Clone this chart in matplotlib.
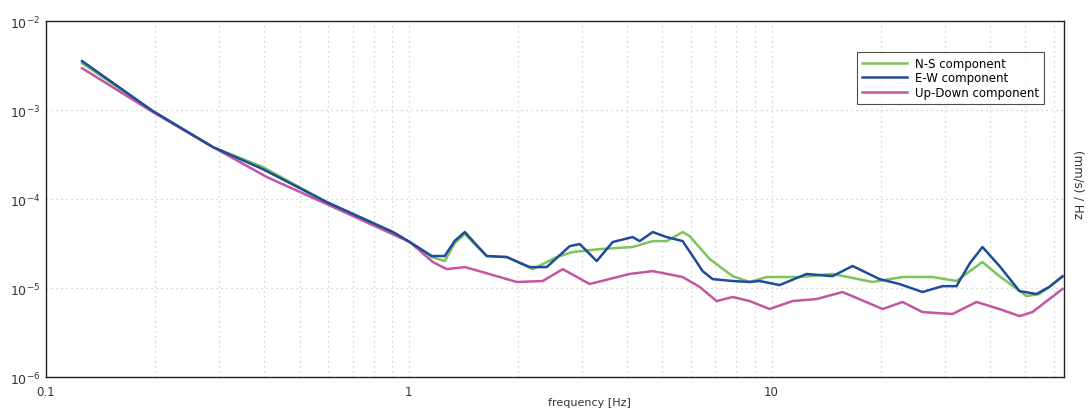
import matplotlib
matplotlib.use("Agg")
import matplotlib.pyplot as plt
from matplotlib.ticker import LogLocator, FixedLocator, NullFormatter

# Spectres de bruit des trois composantes (vitesse, (mm/s)/Hz)
freq_ns = [0.1257, 0.197, 0.2885, 0.396, 0.594, 0.904, 1.006, 1.157, 1.256, 1.339,
           1.427, 1.520, 1.640, 1.862, 2.196, 2.557, 2.830, 3.359, 4.140, 4.701,
           5.137, 5.686, 5.944, 6.749, 7.810, 8.699, 9.687, 11.94, 14.72, 18.97,
           22.96, 27.77, 32.33, 35.20, 38.13, 42.47, 50.41, 54.73, 63.34]
psd_ns = [3.37e-3, 9.75e-4, 3.84e-4, 2.29e-4, 9.25e-5, 4.26e-5, 3.29e-5, 2.23e-5, 2.01e-5, 3.20e-5,
          4.05e-5, 3.10e-5, 2.29e-5, 2.23e-5, 1.63e-5, 2.23e-5, 2.54e-5, 2.74e-5, 2.89e-5, 3.37e-5,
          3.37e-5, 4.26e-5, 3.84e-5, 2.12e-5, 1.36e-5, 1.17e-5, 1.33e-5, 1.33e-5, 1.44e-5, 1.17e-5,
          1.33e-5, 1.33e-5, 1.20e-5, 1.55e-5, 1.96e-5, 1.36e-5, 8.13e-6, 8.57e-6, 1.33e-5]

freq_ew = [0.1257, 0.197, 0.2885, 0.396, 0.594, 0.904, 1.006, 1.157, 1.256, 1.339,
           1.427, 1.520, 1.640, 1.862, 2.154, 2.400, 2.777, 2.959, 3.296, 3.648,
           4.140, 4.329, 4.701, 5.137, 5.686, 6.059, 6.455, 6.879, 7.810, 8.699,
           9.267, 10.52, 12.49, 14.72, 16.72, 19.84, 22.52, 26.06, 29.59, 32.33,
           35.20, 38.13, 42.47, 48.23, 53.70, 58.32, 63.34]
psd_ew = [3.56e-3, 9.75e-4, 3.84e-4, 2.17e-4, 9.25e-5, 4.26e-5, 3.29e-5, 2.29e-5, 2.29e-5, 3.40e-5,
          4.26e-5, 3.20e-5, 2.29e-5, 2.23e-5, 1.72e-5, 1.72e-5, 2.96e-5, 3.12e-5, 2.01e-5, 3.29e-5,
          3.74e-5, 3.37e-5, 4.26e-5, 3.74e-5, 3.37e-5, 2.29e-5, 1.55e-5, 1.26e-5, 1.20e-5, 1.17e-5,
          1.20e-5, 1.08e-5, 1.44e-5, 1.36e-5, 1.77e-5, 1.26e-5, 1.11e-5, 9.02e-6, 1.05e-5, 1.05e-5,
          1.90e-5, 2.89e-5, 1.77e-5, 9.25e-6, 8.57e-6, 1.03e-5, 1.36e-5]

freq_ud = [0.1257, 0.197, 0.2885, 0.406, 0.594, 1.006, 1.165, 1.273, 1.427, 1.599,
           1.984, 2.340, 2.656, 3.152, 4.062, 4.701, 5.686, 6.334, 7.056, 7.810,
           8.699, 9.873, 11.43, 13.30, 15.69, 20.23, 22.96, 26.06, 31.52, 36.71,
           42.47, 48.23, 52.36, 63.34]
psd_ud = [2.96e-3, 9.51e-4, 3.84e-4, 1.77e-4, 8.79e-5, 3.29e-5, 1.96e-5, 1.63e-5, 1.72e-5, 1.51e-5,
          1.17e-5, 1.20e-5, 1.63e-5, 1.11e-5, 1.44e-5, 1.55e-5, 1.33e-5, 1.03e-5, 7.14e-6, 7.93e-6,
          7.14e-6, 5.81e-6, 7.14e-6, 7.52e-6, 9.02e-6, 5.81e-6, 6.97e-6, 5.37e-6, 5.11e-6, 6.97e-6,
          5.81e-6, 4.84e-6, 5.37e-6, 9.75e-6]

x_ticks = [0.1, 1, 10]
x_tick_labels = ["0.1", "1", "10"]
y_ticks = [1e-6, 1e-5, 1e-4, 1e-3, 1e-2]
y_tick_labels = ["$10^{-6}$", "$10^{-5}$", "$10^{-4}$", "$10^{-3}$", "$10^{-2}$"]

fig = plt.figure(figsize=(10.88, 4.10), dpi=100)
ax = fig.add_axes([0.0423, 0.078, 0.9357, 0.868])

ax.plot(freq_ns, psd_ns, color="#7cc35c", lw=1.8, label="N-S component")
ax.plot(freq_ud, psd_ud, color="#c455a0", lw=1.8, label="Up-Down component")
ax.plot(freq_ew, psd_ew, color="#1f4c9a", lw=1.8, label="E-W component")

ax.set_xscale("log")
ax.set_yscale("log")
ax.set_xlim(0.1, 64)
ax.set_ylim(1e-6, 1e-2)

ax.set_xticks(x_ticks)
ax.set_xticklabels(x_tick_labels)
ax.set_yticks(y_ticks)
ax.set_yticklabels(y_tick_labels)
ax.xaxis.set_minor_locator(LogLocator(base=10, subs=range(2, 10)))
ax.xaxis.set_minor_formatter(NullFormatter())
ax.yaxis.set_minor_locator(FixedLocator([]))
ax.tick_params(axis="both", which="both", length=0, colors="#333333")
ax.tick_params(axis="x", pad=6, labelsize=8.5)
ax.tick_params(axis="y", pad=4, labelsize=9)

ax.grid(True, which="major", axis="both", color="#c8c8c8", linestyle=(0, (1, 3)), lw=0.9)
ax.grid(True, which="minor", axis="x", color="#c8c8c8", linestyle=(0, (1, 3)), lw=0.9)

for s in ax.spines.values():
    s.set_color("#222222")
    s.set_linewidth(1.0)

# légende dans l'ordre N-S, E-W, Up-Down
h, l = ax.get_legend_handles_labels()
order = [0, 2, 1]
leg = ax.legend([h[i] for i in order], [l[i] for i in order],
                loc="upper right", bbox_to_anchor=(0.986, 0.93), fontsize=8.5,
                frameon=True, fancybox=False, handlelength=3.8,
                borderpad=0.4, labelspacing=0.15, handletextpad=0.7)
leg.get_frame().set_edgecolor("#222222")
leg.get_frame().set_linewidth(0.8)

fig.text(0.542, 0.018, "frequency [Hz]", ha="center", va="center", fontsize=8, color="#333333")
fig.text(0.991, 0.55, "(mm/s) / Hz", ha="center", va="center", rotation=-90,
         fontsize=8.5, color="#333333")

fig.savefig("out.png", dpi=100)
